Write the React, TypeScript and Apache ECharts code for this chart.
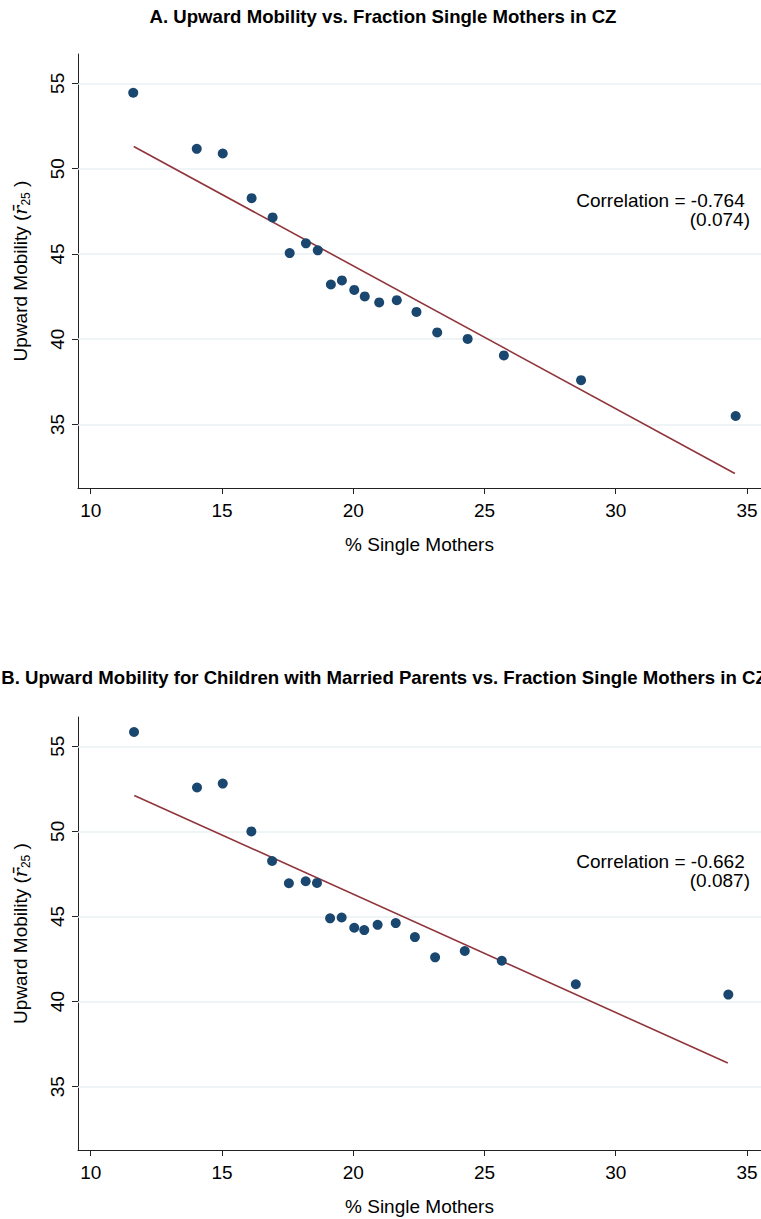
import { useEffect, useRef } from "react";
import * as echarts from "echarts";

const titleA = "A. Upward Mobility vs. Fraction Single Mothers in CZ";
const titleB =
  "B. Upward Mobility for Children with Married Parents vs. Fraction Single Mothers in CZ";
const xAxisTitle = "% Single Mothers";
const yAxisTitle = "Upward Mobility ({r|r\u0304}{s|25} )";
const xTicks = [10, 15, 20, 25, 30, 35];
const yTicks = [35, 40, 45, 50, 55];

const singleMothersA = [
  11.62, 14.04, 15.03, 16.13, 16.93, 17.58, 18.2, 18.65, 19.15, 19.57, 20.04,
  20.44, 20.99, 21.66, 22.41, 23.2, 24.36, 25.74, 28.68, 34.57,
];
const mobilityA = [
  54.45, 51.16, 50.89, 48.27, 47.14, 45.05, 45.62, 45.21, 43.21, 43.45, 42.89,
  42.51, 42.16, 42.29, 41.6, 40.4, 40.02, 39.05, 37.6, 35.5,
];
const fitXA = [11.64, 34.54];
const fitYA = [51.3, 32.13];

const singleMothersB = [
  11.65, 14.05, 15.03, 16.12, 16.91, 17.55, 18.19, 18.62, 19.12, 19.56, 20.04,
  20.42, 20.93, 21.62, 22.35, 23.12, 24.25, 25.66, 28.48, 34.29,
];
const mobilityB = [
  55.84, 52.58, 52.81, 50.0, 48.26, 46.95, 47.07, 46.97, 44.89, 44.94, 44.34,
  44.2, 44.51, 44.61, 43.79, 42.6, 42.97, 42.4, 41.02, 40.41,
];
const fitXB = [11.66, 34.27];
const fitYB = [52.11, 36.39];

const corrA = ["Correlation = -0.764", "(0.074)"];
const corrB = ["Correlation = -0.662", "(0.087)"];

const X_MIN = 9.516;
const X_MAX = 35.535;
const Y_MIN = 31.28;
const Y_MAX = 56.72;

const FONT = "'Liberation Sans', Arial, Helvetica, sans-serif";
const DOT = "#1a476f";
const FIT = "#90353b";
const GRID = "#eaf2f3";
const AXIS = "#222222";

function zip(xs: number[], ys: number[]) {
  return xs.map((x, i) => [x, ys[i]]);
}

function makeX(gridIndex: number) {
  return {
    type: "value",
    gridIndex,
    min: X_MIN,
    max: X_MAX,
    name: xAxisTitle,
    nameLocation: "middle",
    nameGap: 47,
    nameTextStyle: { fontFamily: FONT, fontSize: 19, color: "#000" },
    axisLine: { show: true, lineStyle: { color: AXIS, width: 1 } },
    axisTick: {
      show: true,
      length: 6,
      customValues: xTicks,
      lineStyle: { color: AXIS, width: 1 },
    },
    axisLabel: {
      customValues: xTicks,
      margin: 13,
      fontFamily: FONT,
      fontSize: 19,
      color: "#000",
    },
    splitLine: { show: false },
  };
}

function makeY(gridIndex: number) {
  return {
    type: "value",
    gridIndex,
    min: Y_MIN,
    max: Y_MAX,
    name: yAxisTitle,
    nameLocation: "middle",
    nameGap: 46,
    nameRotate: 90,
    nameTextStyle: {
      fontFamily: FONT,
      fontSize: 19,
      color: "#000",
      rich: {
        r: {
          fontFamily: "'DejaVu Serif', 'Liberation Serif', serif",
          fontStyle: "italic",
          fontSize: 19,
          lineHeight: 24,
          color: "#000",
        },
        s: {
          fontFamily: FONT,
          fontSize: 12,
          lineHeight: 12,
          color: "#000",
          verticalAlign: "bottom",
        },
      },
    },
    axisLine: { show: true, lineStyle: { color: AXIS, width: 1 } },
    axisTick: {
      show: true,
      length: 6,
      customValues: yTicks,
      lineStyle: { color: AXIS, width: 1 },
    },
    axisLabel: {
      customValues: yTicks,
      rotate: 90,
      margin: 11,
      fontFamily: FONT,
      fontSize: 19,
      color: "#000",
    },
    splitLine: { show: false },
  };
}

function gridLines(xAxisIndex: number) {
  return {
    type: "line",
    xAxisIndex,
    yAxisIndex: xAxisIndex,
    data: [],
    silent: true,
    z: 1,
    markLine: {
      silent: true,
      z: 1,
      symbol: "none",
      label: { show: false },
      animation: false,
      lineStyle: { color: GRID, width: 1.6, type: "solid" },
      data: yTicks.map((v) => ({ yAxis: v })),
    },
  };
}

export default function App() {
  const ref = useRef<HTMLDivElement>(null);

  useEffect(() => {
    document.body.style.margin = "0";
    if (!ref.current) return;
    const chart = echarts.init(ref.current, undefined, { renderer: "svg" });

    const corrText = (lines: string[], y: number) => ({
      type: "text",
      x: 750,
      y,
      style: {
        text: lines[0] + " \n" + lines[1],
        align: "right",
        verticalAlign: "top",
        font: `19px ${FONT}`,
        lineHeight: 19,
        fill: "#000",
      },
    });

    chart.setOption({
      animation: false,
      backgroundColor: "#ffffff",
      grid: [
        { left: 78, top: 54, width: 683, height: 434, containLabel: false },
        { left: 78, top: 717, width: 683, height: 433, containLabel: false },
      ],
      xAxis: [makeX(0), makeX(1)],
      yAxis: [makeY(0), makeY(1)],
      graphic: [
        {
          type: "text",
          x: 383,
          y: 16,
          style: {
            text: titleA,
            align: "center",
            verticalAlign: "middle",
            font: `bold 18.6px ${FONT}`,
            fill: "#000",
          },
        },
        {
          type: "text",
          x: 384,
          y: 677,
          style: {
            text: titleB,
            align: "center",
            verticalAlign: "middle",
            font: `bold 18.6px ${FONT}`,
            fill: "#000",
          },
        },
        corrText(corrA, 191),
        corrText(corrB, 852),
      ],
      series: [
        gridLines(0),
        gridLines(1),
        {
          type: "line",
          xAxisIndex: 0,
          yAxisIndex: 0,
          data: zip(fitXA, fitYA),
          symbol: "none",
          lineStyle: { color: FIT, width: 1.6 },
          z: 2,
        },
        {
          type: "scatter",
          xAxisIndex: 0,
          yAxisIndex: 0,
          data: zip(singleMothersA, mobilityA),
          symbol: "circle",
          symbolSize: 10,
          itemStyle: { color: DOT, opacity: 1 },
          z: 3,
        },
        {
          type: "line",
          xAxisIndex: 1,
          yAxisIndex: 1,
          data: zip(fitXB, fitYB),
          symbol: "none",
          lineStyle: { color: FIT, width: 1.6 },
          z: 2,
        },
        {
          type: "scatter",
          xAxisIndex: 1,
          yAxisIndex: 1,
          data: zip(singleMothersB, mobilityB),
          symbol: "circle",
          symbolSize: 10,
          itemStyle: { color: DOT, opacity: 1 },
          z: 3,
        },
      ],
    });

    return () => {
      chart.dispose();
    };
  }, []);

  return <div ref={ref} style={{ width: 761, height: 1219 }} />;
}
